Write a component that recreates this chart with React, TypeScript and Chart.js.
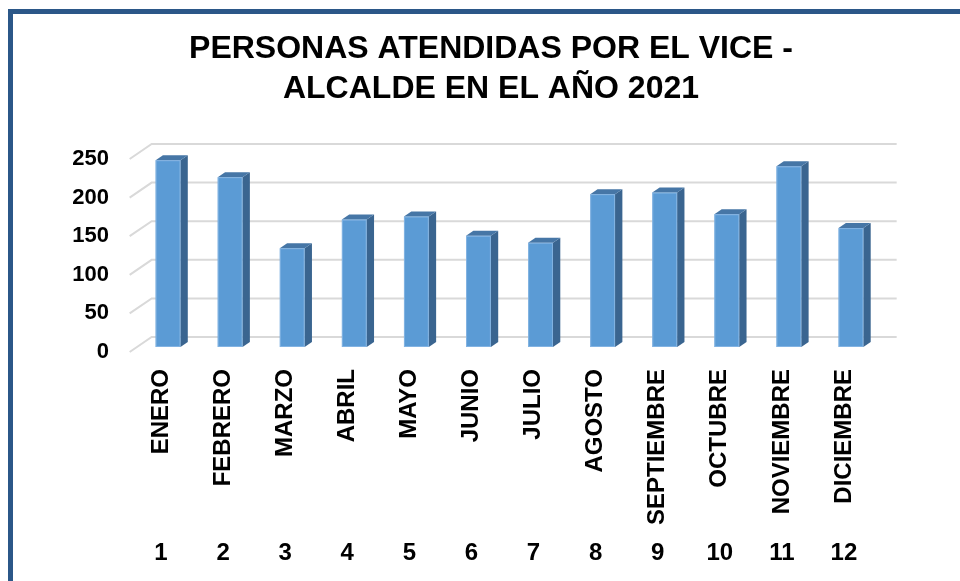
import React, { useEffect, useRef } from "react";
import { Chart, registerables } from "chart.js";

Chart.register(...registerables);

const TITLE_LINES = ["PERSONAS ATENDIDAS POR EL VICE -", "ALCALDE EN EL AÑO 2021"];
const MONTHS = [
  "ENERO", "FEBRERO", "MARZO", "ABRIL", "MAYO", "JUNIO",
  "JULIO", "AGOSTO", "SEPTIEMBRE", "OCTUBRE", "NOVIEMBRE", "DICIEMBRE",
];
const MONTH_NUMBERS = ["1", "2", "3", "4", "5", "6", "7", "8", "9", "10", "11", "12"];
const PERSONAS = [242, 220, 128, 165, 169, 144, 135, 198, 200, 172, 234, 154];
const Y_MIN = 0;
const Y_MAX = 250;
const Y_STEP = 50;

const FONT = "'Liberation Sans', Arial, sans-serif";
// 3D geometry (pixels)
const FLOOR_DX = 22;
const FLOOR_DY = 15;
const BAR_OX = FLOOR_DX / 3;
const BAR_OY = FLOOR_DY / 3;

const gridPlugin = {
  id: "grid3d",
  beforeDatasetsDraw(chart: any) {
    const ys = chart.scales.y;
    const { left, right } = chart.chartArea;
    const ctx = chart.ctx;
    ctx.save();
    ctx.strokeStyle = "#D9D9D9";
    ctx.lineWidth = 2;
    ys.ticks.forEach((t: any) => {
      const y = ys.getPixelForValue(t.value);
      const fx = left - BAR_OX;
      const fy = y + BAR_OY;
      ctx.beginPath();
      ctx.moveTo(fx, fy);
      ctx.lineTo(fx + FLOOR_DX, fy - FLOOR_DY);
      ctx.lineTo(right - BAR_OX + FLOOR_DX, fy - FLOOR_DY);
      ctx.stroke();
    });
    ctx.restore();
  },
};

const barsPlugin = {
  id: "bars3d",
  afterDatasetsDraw(chart: any) {
    const ctx = chart.ctx;
    const meta = chart.getDatasetMeta(0);
    ctx.save();
    meta.data.forEach((el: any) => {
      const { x, y, base, width } = el.getProps(["x", "y", "base", "width"], true);
      const l = x - width / 2;
      const r = x + width / 2;
      const dx = BAR_OX;
      const dy = -BAR_OY;
      // side face
      ctx.fillStyle = "#3A6590";
      ctx.beginPath();
      ctx.moveTo(r, y);
      ctx.lineTo(r + dx, y + dy);
      ctx.lineTo(r + dx, base + dy);
      ctx.lineTo(r, base);
      ctx.closePath();
      ctx.fill();
      // top face
      ctx.fillStyle = "#4676A6";
      ctx.beginPath();
      ctx.moveTo(l, y);
      ctx.lineTo(l + dx, y + dy);
      ctx.lineTo(r + dx, y + dy);
      ctx.lineTo(r, y);
      ctx.closePath();
      ctx.fill();
      // subtle light edge on front face
      ctx.strokeStyle = "rgba(140,185,230,0.8)";
      ctx.lineWidth = 1;
      ctx.strokeRect(l + 0.5, y + 0.5, width - 1, base - y - 1);
    });
    ctx.restore();
  },
};

export default function App() {
  const canvasRef = useRef<HTMLCanvasElement | null>(null);

  useEffect(() => {
    const canvas = canvasRef.current;
    if (!canvas) return;
    const chart = new Chart(canvas, {
      type: "bar",
      data: {
        labels: MONTHS,
        datasets: [
          {
            label: "Personas",
            data: PERSONAS,
            backgroundColor: "#5B9BD5",
            borderWidth: 0,
            barPercentage: 0.4,
            categoryPercentage: 1,
          },
        ],
      },
      options: {
        responsive: false,
        animation: false,
        layout: { padding: { left: 60, right: 38, top: 0, bottom: 12 } },
        plugins: {
          legend: { display: false },
          tooltip: { enabled: false },
          title: {
            display: true,
            text: TITLE_LINES,
            color: "#000000",
            font: { family: FONT, size: 32, weight: "bold", lineHeight: 40 / 32 },
            padding: { top: 29, bottom: 45 },
          },
        },
        scales: {
          x: {
            type: "category",
            position: "bottom",
            grid: { display: false, drawTicks: false },
            border: { display: false },
            ticks: {
              autoSkip: false,
              minRotation: 90,
              maxRotation: 90,
              padding: 22,
              labelOffset: -7,
              color: "#000000",
              font: { family: FONT, size: 24, weight: "bold" },
            },
            afterFit: (s: any) => {
              s.height = 190;
            },
          },
          x2: {
            type: "category",
            position: "bottom",
            labels: MONTH_NUMBERS,
            grid: { display: false, drawTicks: false },
            border: { display: false },
            ticks: {
              autoSkip: false,
              minRotation: 0,
              maxRotation: 0,
              padding: 2,
              labelOffset: -7,
              color: "#000000",
              font: { family: FONT, size: 24, weight: "bold" },
            },
            afterFit: (s: any) => {
              s.height = 32;
            },
          },
          y: {
            min: Y_MIN,
            max: Y_MAX,
            grid: { display: false, drawTicks: false },
            border: { display: false },
            ticks: {
              stepSize: Y_STEP,
              padding: 28,
              labelOffset: 5,
              color: "#000000",
              font: { family: FONT, size: 22, weight: "bold" },
            },
            afterFit: (s: any) => {
              s.width = 77;
            },
          },
          yRight: {
            type: "linear",
            position: "right",
            min: Y_MIN,
            max: Y_MAX,
            grid: { display: false, drawTicks: false },
            border: { display: false },
            ticks: { display: false },
            afterFit: (s: any) => {
              s.width = 40;
            },
          },
        },
      },
      plugins: [gridPlugin, barsPlugin],
    } as any);
    return () => chart.destroy();
  }, []);

  return (
    <div
      style={{
        position: "fixed",
        left: 0,
        top: 0,
        width: 960,
        height: 581,
        overflow: "hidden",
        background: "#ffffff",
      }}
    >
      <div
        style={{
          position: "absolute",
          left: 8,
          top: 9,
          width: 1100,
          height: 800,
          border: "5px solid #2B5788",
          boxSizing: "border-box",
        }}
      />
      <canvas
        ref={canvasRef}
        width={960}
        height={581}
        style={{ position: "absolute", left: 0, top: 0, width: 960, height: 581 }}
      />
    </div>
  );
}
